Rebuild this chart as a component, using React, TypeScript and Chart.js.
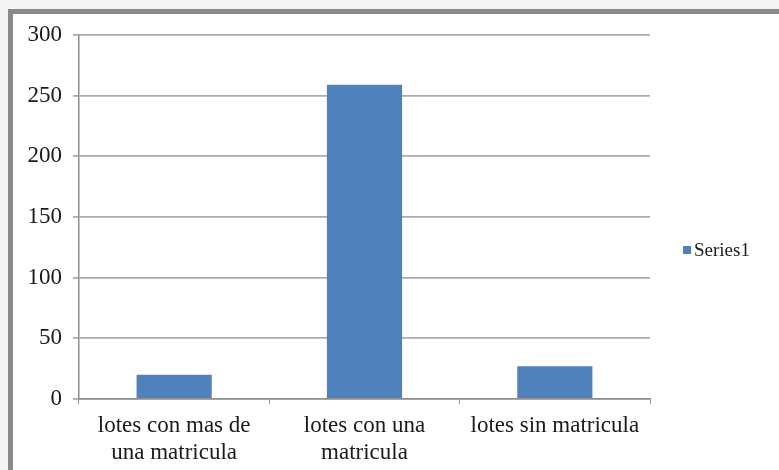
import React, { useEffect, useRef } from "react";
import { Chart, registerables } from "chart.js";

Chart.register(...registerables);

const categories: string[][] = [
  ["lotes con mas de", "una matricula"],
  ["lotes con una", "matricula"],
  ["lotes sin matricula"],
];
const seriesName = "Series1";
const seriesValues: number[] = [20, 259, 27];
const yMin = 0;
const yMax = 300;
const yStep = 50;

const BAR_COLOR = "#4f81bd";
const FONT = "'Liberation Serif', 'Times New Roman', serif";

const framePlugin = {
  id: "frame",
  beforeDraw(chart: any) {
    const ctx = chart.ctx;
    ctx.save();
    ctx.fillStyle = "#f4f4f4";
    ctx.fillRect(0, 0, chart.width, chart.height);
    ctx.fillStyle = "#ffffff";
    ctx.fillRect(13, 14, chart.width - 13, chart.height - 14);
    ctx.fillStyle = "#8a8a8a";
    ctx.fillRect(8, 9, chart.width - 8, 5);
    ctx.fillRect(8, 9, 5, chart.height - 9);
    ctx.restore();
  },
  afterDraw(chart: any) {
    const ctx = chart.ctx;
    ctx.save();
    ctx.fillStyle = BAR_COLOR;
    ctx.fillRect(683, 246, 8, 8);
    ctx.fillStyle = "#1a1a1a";
    ctx.font = `19px ${FONT}`;
    ctx.textBaseline = "middle";
    ctx.textAlign = "left";
    ctx.fillText(seriesName, 694, 251);
    ctx.restore();
  },
};

export default function App() {
  const ref = useRef<HTMLCanvasElement | null>(null);
  useEffect(() => {
    if (!ref.current) return;
    const chart = new Chart(ref.current, {
      type: "bar",
      data: {
        labels: categories,
        datasets: [
          {
            label: seriesName,
            data: seriesValues,
            backgroundColor: BAR_COLOR,
            borderWidth: 0,
            categoryPercentage: 1,
            barPercentage: 0.395,
          },
        ],
      },
      options: {
        animation: false,
        responsive: false,
        maintainAspectRatio: false,
        layout: { padding: { top: 35, right: 129, left: 0, bottom: 0 } },
        plugins: {
          legend: { display: false },
          tooltip: { enabled: false },
        },
        scales: {
          x: {
            grid: {
              display: true,
              drawOnChartArea: false,
              offset: true,
              tickLength: 5,
              color: "#8e8e8e",
            },
            border: { display: true, color: "#8e8e8e", width: 1.5 },
            ticks: {
              color: "#1a1a1a",
              font: { family: FONT, size: 23, lineHeight: 1.18 },
              padding: 8,
              maxRotation: 0,
              autoSkip: false,
            },
            afterFit: (s: any) => {
              s.height = 71;
            },
          },
          y: {
            min: yMin,
            max: yMax,
            grid: { color: "#ababab", lineWidth: 1.8, tickLength: 6 },
            border: { display: true, color: "#8e8e8e", width: 1.5 },
            ticks: {
              stepSize: yStep,
              color: "#1a1a1a",
              font: { family: FONT, size: 23 },
              padding: 11,
            },
            afterFit: (s: any) => {
              s.width = 79;
            },
          },
        },
      },
      plugins: [framePlugin],
    });
    return () => chart.destroy();
  }, []);
  return (
    <div style={{ position: "absolute", left: 0, top: 0, width: 779, height: 470 }}>
      <canvas ref={ref} width={779} height={470} style={{ width: 779, height: 470, display: "block" }} />
    </div>
  );
}
